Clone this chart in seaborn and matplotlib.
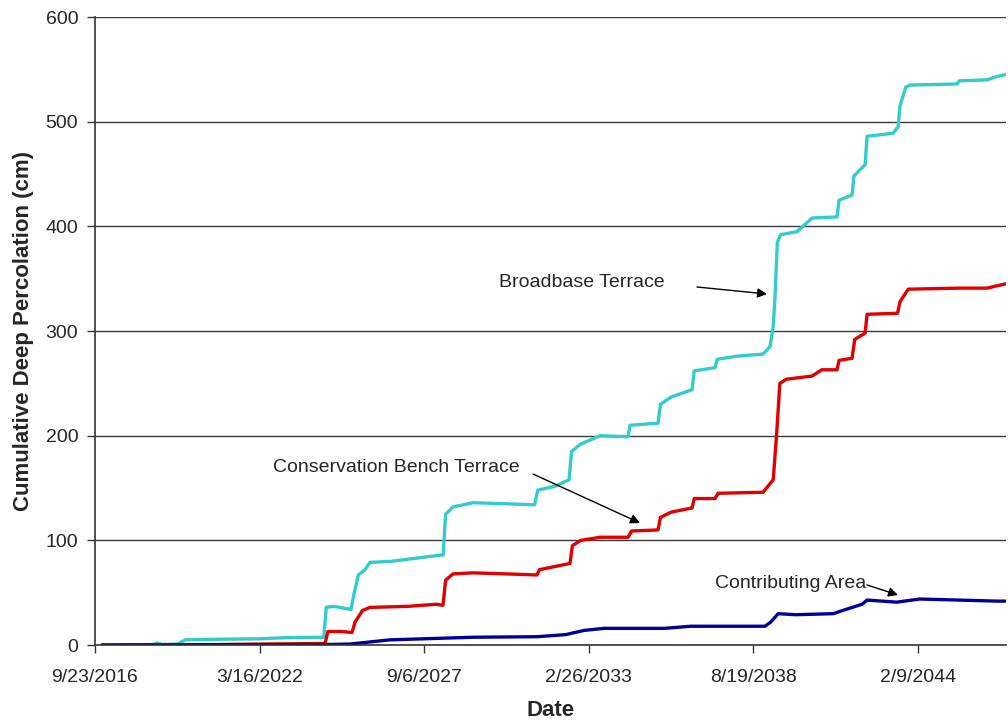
import pandas as pd
import numpy as np
import matplotlib
matplotlib.use('Agg')
import matplotlib.pyplot as plt
import seaborn as sns

# days since 9/23/2016, cumulative deep percolation (cm)
start = pd.Timestamp('2016-09-23')

bb_day = [85, 700, 760, 820, 1000, 1100, 1400, 2000, 2300, 2780, 2810, 2900, 3110, 3150,
          3200, 3280, 3341, 3600, 3900, 4200, 4230, 4260, 4350, 4593, 5000, 5340, 5380,
          5600, 5760, 5790, 5900, 6136, 6476, 6500, 6840, 6870, 7000, 7254, 7280, 7533,
          7560, 7800, 8116, 8200, 8238, 8260, 8290, 8330, 8529, 8712, 9015, 9040, 9198,
          9220, 9356, 9380, 9696, 9756, 9780, 9850, 9902, 10473, 10500, 10838, 10950, 11057]
bb_val = [0, 0.5, 2, 0.5, 1, 5, 5.5, 6, 7, 7.5, 36, 37, 34, 50,
          67, 72, 79, 80, 83, 86, 86, 125, 132, 136, 135, 134, 148,
          152, 158, 185, 192, 200, 199, 210, 212, 230, 237, 244, 262, 265,
          273, 276, 278, 285, 303, 330, 385, 392, 395, 408, 409, 425, 430,
          448, 459, 486, 489, 495, 515, 533, 535, 536, 539, 540, 543, 545]

cbt_day = [85, 1500, 2000, 2795, 2830, 3000, 3123, 3160, 3250, 3341, 3800, 4150, 4228, 4260,
           4350, 4593, 5000, 5370, 5400, 5771, 5800, 5900, 6136, 6476, 6520, 6840, 6870,
           7000, 7254, 7280, 7533, 7570, 8116, 8240, 8280, 8320, 8400, 8712, 8830, 9015,
           9040, 9198, 9230, 9356, 9380, 9750, 9780, 9880, 10500, 10838, 11057]
cbt_val = [0, 0.5, 1, 1.5, 13, 13, 12, 22, 33, 36, 37, 39, 38, 62,
           68, 69, 68, 67, 72, 78, 95, 100, 103, 103, 109, 110, 122,
           127, 131, 140, 140, 145, 146, 158, 200, 250, 254, 257, 263, 263,
           272, 274, 292, 298, 316, 317, 328, 340, 341, 341, 345]

ca_day = [85, 2795, 3100, 3341, 3584, 4600, 5370, 5720, 5940, 6190, 6920, 7240, 8140,
          8210, 8300, 8510, 8970, 9080, 9320, 9380, 9740, 10020, 10960, 11057]
ca_val = [0, 0.5, 1, 3, 5, 7.5, 8, 10, 14, 16, 16, 18, 18,
          22, 30, 29, 30, 33, 39, 43, 41, 44, 42, 42]

tick_labels = ['9/23/2016', '3/16/2022', '9/6/2027', '2/26/2033', '8/19/2038', '2/9/2044']

frames = []
for name, d, v in [('Broadbase Terrace', bb_day, bb_val),
                   ('Conservation Bench Terrace', cbt_day, cbt_val),
                   ('Contributing Area', ca_day, ca_val)]:
    frames.append(pd.DataFrame({'Date': start + pd.to_timedelta(d, unit='D'),
                                'perc': v, 'series': name}))
df = pd.concat(frames, ignore_index=True)

sns.set_style('white')
plt.rcParams['font.family'] = ['Liberation Sans', 'DejaVu Sans']

fig = plt.figure(figsize=(10.08, 7.24), dpi=100)
ax = fig.add_axes([0.0942, 0.109, 0.904, 0.8675])

ax.set_ylim(0, 600)
ax.set_yticks(range(0, 601, 100))
for yv in range(100, 601, 100):
    ax.axhline(yv, color='#3a3a3a', lw=1, zorder=0)

palette = {'Broadbase Terrace': '#33cccc',
           'Conservation Bench Terrace': '#e00000',
           'Contributing Area': '#000099'}
sns.lineplot(data=df, x='Date', y='perc', hue='series', palette=palette,
             lw=2.4, legend=False, ax=ax, estimator=None, sort=False)

ax.set_xlim(start, start + pd.Timedelta(days=11070))
ticks = [start + pd.Timedelta(days=2000 * i) for i in range(len(tick_labels))]
ax.set_xticks(ticks)
ax.set_xticklabels(tick_labels)

for s in ['top', 'right']:
    ax.spines[s].set_visible(False)
for s in ['left', 'bottom']:
    ax.spines[s].set_color('#333333')
    ax.spines[s].set_linewidth(1.2)

ax.tick_params(axis='x', direction='out', length=6, width=1, color='#333333',
               labelsize=14, pad=11)
ax.tick_params(axis='y', direction='out', length=6, width=1, color='#333333',
               labelsize=14, pad=6)
ax.xaxis.set_ticks_position('bottom')
ax.yaxis.set_ticks_position('left')

ax.set_xlabel('Date', fontsize=16, fontweight='bold', labelpad=10)
ax.set_ylabel('Cumulative Deep Percolation (cm)', fontsize=16, fontweight='bold', labelpad=8)

arrow = dict(arrowstyle='-|>', color='black', lw=1, mutation_scale=14, shrinkA=0, shrinkB=0)

# annotations placed in figure pixel coordinates
ax.annotate('', xy=(767 / 1008, 1 - 294 / 724), xytext=(697 / 1008, 1 - 287 / 724),
            xycoords='figure fraction', textcoords='figure fraction', arrowprops=arrow)
fig.text(582 / 1008, 1 - 283 / 724, 'Broadbase Terrace', ha='center', va='center', fontsize=14)

ax.annotate('', xy=(640 / 1008, 1 - 523 / 724), xytext=(533 / 1008, 1 - 474 / 724),
            xycoords='figure fraction', textcoords='figure fraction', arrowprops=arrow)
fig.text(396 / 1008, 1 - 467 / 724, 'Conservation Bench Terrace', ha='center', va='center', fontsize=14)

ax.annotate('', xy=(898 / 1008, 1 - 595 / 724), xytext=(867 / 1008, 1 - 585 / 724),
            xycoords='figure fraction', textcoords='figure fraction', arrowprops=arrow)
fig.text(791 / 1008, 1 - 583 / 724, 'Contributing Area', ha='center', va='center', fontsize=14)

fig.savefig('out.png', dpi=100)
plt.close()
